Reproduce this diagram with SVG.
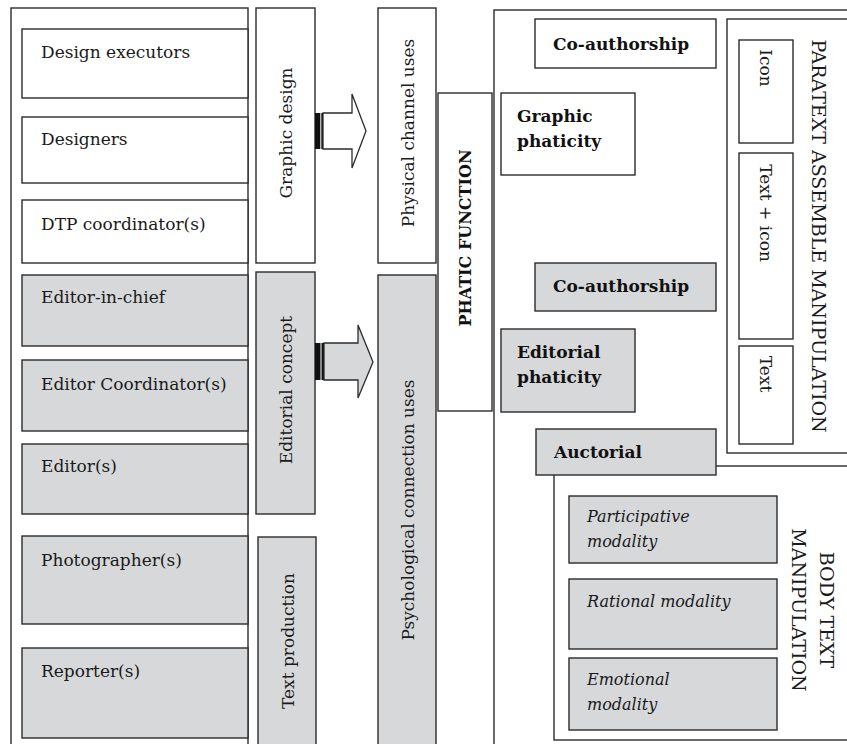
<svg xmlns="http://www.w3.org/2000/svg" width="847" height="744" viewBox="0 0 847 744">
<style>
.b{stroke:#2b2b2b;stroke-width:1.4;fill:#fff}
.g{stroke:#2b2b2b;stroke-width:1.4;fill:#d7d8da}
.t{font-family:"DejaVu Serif","Liberation Serif",serif;font-size:17px;fill:#1a1a1a}
.bd{font-family:"DejaVu Serif","Liberation Serif",serif;font-size:17px;font-weight:bold;fill:#111}
.it{font-family:"DejaVu Serif","Liberation Serif",serif;font-size:16px;font-style:italic;fill:#1a1a1a}
.cap{font-family:"DejaVu Serif","Liberation Serif",serif;font-size:19px;fill:#1a1a1a}
.m{text-anchor:middle}
</style>
<rect width="847" height="744" fill="#fff"/>

<g id="roles">
<rect class="b" x="11" y="8" width="237" height="750"/>
</g>
<g id="design-executors"><rect class="b" x="22" y="29" width="226" height="69"/><text class="t" x="41" y="58">Design executors</text></g>
<g id="designers"><rect class="b" x="22" y="117" width="226" height="66"/><text class="t" x="41" y="145">Designers</text></g>
<g id="dtp"><rect class="b" x="22" y="200" width="226" height="63"/><text class="t" x="41" y="230">DTP coordinator(s)</text></g>
<g id="editor-in-chief"><rect class="g" x="22" y="275" width="226" height="71"/><text class="t" x="41" y="303">Editor-in-chief</text></g>
<g id="editor-coordinator"><rect class="g" x="22" y="360" width="226" height="71"/><text class="t" x="41" y="390">Editor Coordinator(s)</text></g>
<g id="editors"><rect class="g" x="22" y="444" width="226" height="70"/><text class="t" x="41" y="472">Editor(s)</text></g>
<g id="photographers"><rect class="g" x="22" y="536" width="226" height="88"/><text class="t" x="41" y="566">Photographer(s)</text></g>
<g id="reporters"><rect class="g" x="22" y="648" width="226" height="90"/><text class="t" x="41" y="677">Reporter(s)</text></g>

<g id="graphic-design"><rect class="b" x="256" y="8" width="59" height="255"/><text class="t m" transform="translate(292,133) rotate(-90)">Graphic design</text></g>
<g id="editorial-concept"><rect class="g" x="256" y="272" width="59" height="242"/><text class="t m" transform="translate(292,390) rotate(-90)">Editorial concept</text></g>
<g id="text-production"><rect class="g" x="258" y="537" width="58" height="220"/><text class="t m" transform="translate(294,641) rotate(-90)">Text production</text></g>

<g id="physical-channel"><rect class="b" x="378" y="8" width="58" height="255"/><text class="t m" transform="translate(414,133) rotate(-90)">Physical channel uses</text></g>
<g id="psychological-connection"><rect class="g" x="378" y="275" width="58" height="480"/><text class="t m" transform="translate(414,510) rotate(-90)">Psychological connection uses</text></g>

<g id="phatic-function"><rect class="b" x="438" y="93" width="54" height="318"/><text class="bd m" style="font-size:16px" transform="translate(471,238) rotate(-90)">PHATIC FUNCTION</text></g>

<g id="connectors">
<rect x="315" y="113" width="8" height="36" fill="#111"/>
<line x1="320.8" y1="113" x2="320.8" y2="149" stroke="#fff" stroke-width="1"/>
<path d="M323,113 H352 V94 L366,131 L352,168 V149 H323 Z" fill="#fff" stroke="#2b2b2b" stroke-width="1.3"/>
<rect x="315" y="343" width="9" height="37" fill="#111"/>
<line x1="321" y1="343" x2="321" y2="380" stroke="#fff" stroke-width="1"/>
<path d="M324,343 H358 V325 L373,362 L358,398 V380 H324 Z" fill="#d7d8da" stroke="#2b2b2b" stroke-width="1.3"/>
</g>

<g id="phaticity-panel"><rect class="b" x="494" y="10" width="360" height="750"/></g>
<g id="co-authorship-1"><rect class="b" x="535" y="19" width="181" height="49"/><text class="bd" x="553" y="50">Co-authorship</text></g>
<g id="graphic-phaticity"><rect class="b" x="501" y="93" width="134" height="82"/><text class="bd" x="517" y="122">Graphic</text><text class="bd" x="517" y="147">phaticity</text></g>
<g id="co-authorship-2"><rect class="g" x="535" y="263" width="181" height="48"/><text class="bd" x="553" y="292">Co-authorship</text></g>
<g id="editorial-phaticity"><rect class="g" x="501" y="329" width="134" height="83"/><text class="bd" x="517" y="358">Editorial</text><text class="bd" x="517" y="383">phaticity</text></g>

<g id="paratext"><rect class="b" x="727" y="19" width="130" height="434"/>
<text class="cap m" transform="translate(812,236) rotate(90)">PARATEXT ASSEMBLE MANIPULATION</text></g>
<g id="icon"><rect class="b" x="739" y="40" width="54" height="103"/><text class="t m" transform="translate(760,68) rotate(90)">Icon</text></g>
<g id="text-icon"><rect class="b" x="739" y="153" width="54" height="186"/><text class="t m" transform="translate(760,213) rotate(90)">Text + icon</text></g>
<g id="text"><rect class="b" x="739" y="346" width="54" height="98"/><text class="t m" transform="translate(760,374) rotate(90)">Text</text></g>

<g id="body-text"><rect class="b" x="554" y="466" width="300" height="274"/>
<text class="cap m" transform="translate(820,610) rotate(90)">BODY TEXT</text>
<text class="cap m" transform="translate(792,610) rotate(90)">MANIPULATION</text></g>
<g id="auctorial"><rect class="g" x="536" y="429" width="180" height="46"/><text class="bd" x="554" y="458">Auctorial</text></g>
<g id="participative"><rect class="g" x="569" y="496" width="208" height="67"/><text class="it" x="587" y="522">Participative</text><text class="it" x="587" y="547">modality</text></g>
<g id="rational"><rect class="g" x="569" y="579" width="208" height="70"/><text class="it" x="587" y="607">Rational modality</text></g>
<g id="emotional"><rect class="g" x="569" y="658" width="208" height="72"/><text class="it" x="587" y="685">Emotional</text><text class="it" x="587" y="710">modality</text></g>
</svg>
